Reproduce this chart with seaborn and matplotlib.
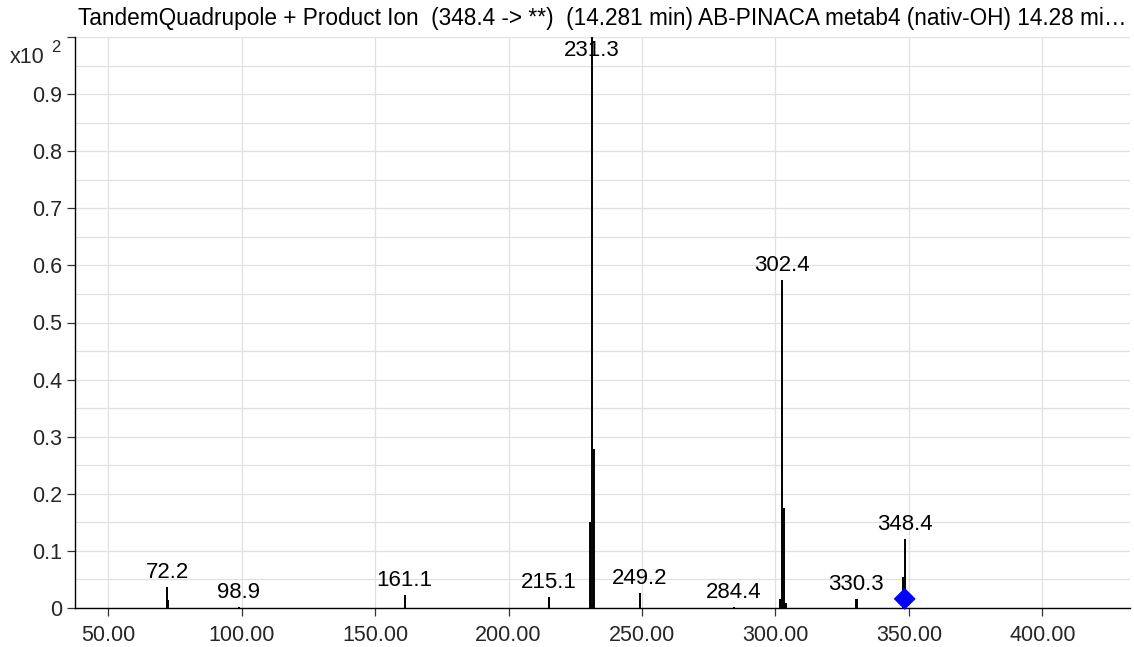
import matplotlib
matplotlib.use("Agg")
import matplotlib.pyplot as plt
import seaborn as sns
import pandas as pd
import numpy as np

# Product-ion spectrum: m/z of each stick and its relative abundance (x10^2)
mz = [72.0, 72.2, 72.5, 98.9, 161.1, 215.0, 215.3, 230.6, 231.3, 232.0,
      249.2, 284.4, 301.6, 302.4, 303.1, 303.7, 304.1, 330.2, 330.5,
      347.8, 348.4]
abundance = [0.016, 0.037, 0.014, 0.001, 0.023, 0.020, 0.020, 0.150, 1.000, 0.278,
             0.027, 0.001, 0.016, 0.574, 0.175, 0.009, 0.009, 0.016, 0.016,
             0.055, 0.120]

# Annotated peaks
label_mz = [72.2, 98.9, 161.1, 215.1, 231.3, 249.2, 284.4, 302.4, 330.3, 348.4]
label_height = [0.037, 0.001, 0.023, 0.020, 1.000, 0.027, 0.001, 0.574, 0.016, 0.120]

# Precursor ion marker
precursor_mz = [348.4]
precursor_y = [0.016]

x_ticks = [50, 100, 150, 200, 250, 300, 350, 400]
y_ticks = [0, 0.1, 0.2, 0.3, 0.4, 0.5, 0.6, 0.7, 0.8, 0.9, 1.0]
y_tick_labels = ["0", "0.1", "0.2", "0.3", "0.4", "0.5", "0.6", "0.7", "0.8", "0.9", ""]

title = ("TandemQuadrupole + Product Ion  (348.4 -> **)  (14.281 min) "
         "AB-PINACA metab4 (nativ-OH) 14.28 mi\u2026")

sns.set_theme(style="white")
plt.rcParams["font.family"] = ["Liberation Sans", "DejaVu Sans"]

W, H = 1134, 647
fig = plt.figure(figsize=(W / 100, H / 100), dpi=100)
ax = fig.add_axes([75 / W, 39 / H, 1055 / W, 571 / H])

spec = pd.DataFrame({"mz": mz, "abundance": abundance})
ax.vlines(spec["mz"], 0, spec["abundance"], color="black", lw=1.4, zorder=3)

prec = pd.DataFrame({"mz": precursor_mz, "y": precursor_y})
sns.scatterplot(data=prec, x="mz", y="y", marker="D", s=125, color="#0000ff",
                edgecolor="none", ax=ax, zorder=5, clip_on=False)

for m, h in zip(label_mz, label_height):
    dy = -13.7 if h >= 0.99 else 6.5
    ax.annotate(f"{m:.1f}", xy=(m, h), xytext=(0, dy), textcoords="offset points",
                ha="center", va="baseline", fontsize=16, color="black", zorder=6)

ax.set_xlim(37.6, 432.8)
ax.set_ylim(0, 1.0)
ax.set_xticks(x_ticks)
ax.set_xticklabels([f"{v:.2f}" for v in x_ticks])
ax.set_yticks(y_ticks)
ax.set_yticklabels(y_tick_labels)
ax.set_yticks(np.arange(0.05, 1.0, 0.1), minor=True)

ax.grid(True, which="major", axis="both", color="#e0e0e0", lw=0.9)
ax.grid(True, which="minor", axis="y", color="#e0e0e0", lw=0.9)
ax.set_axisbelow(True)

for side in ["top", "right"]:
    ax.spines[side].set_visible(False)
for side in ["left", "bottom"]:
    ax.spines[side].set_color("black")
    ax.spines[side].set_linewidth(1.0)

ax.tick_params(axis="y", which="major", direction="out", length=6, width=0.9,
               color="#333333", labelsize=15.5, pad=3.5, left=True)
ax.tick_params(axis="y", which="minor", length=0)
ax.tick_params(axis="x", which="major", direction="out", length=5.5, width=0.9,
               color="#333333", labelsize=15.5, pad=6.5, bottom=True)
ax.set_xlabel("")
ax.set_ylabel("")

fig.text(78 / W, 1 - 18 / H, title, ha="left", va="center", fontsize=16.3,
         color="black")
fig.text(10 / W, 1 - 63 / H, "x10", ha="left", va="baseline", fontsize=15.5)
fig.text(51 / W, 1 - 52 / H, "2", ha="left", va="baseline", fontsize=12)

fig.savefig("out.png", dpi=100)
